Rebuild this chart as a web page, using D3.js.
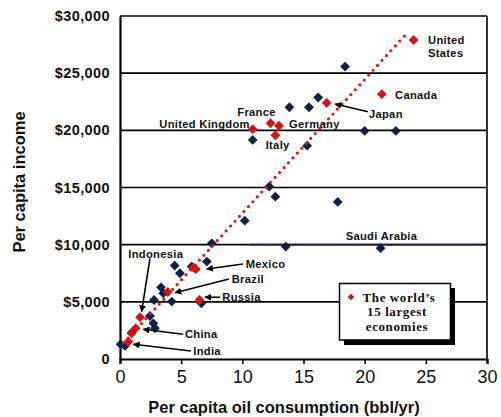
<!DOCTYPE html>
<html><head><meta charset="utf-8">
<script src="https://cdn.jsdelivr.net/npm/d3@7"></script>
<style>
html,body{margin:0;padding:0;background:#fff;}
svg{display:block;font-family:Arial,"Liberation Sans",Helvetica,sans-serif;}
</style></head>
<body>
<svg id="c" width="501" height="417"></svg>
<script>
// ---- data ----
const bigNames  = ["United States","Canada","Japan","France","Germany","United Kingdom","Italy","Russia","Brazil","Mexico","Indonesia","China","India","",""];
const bigOil    = [24.0, 21.4, 16.9, 12.3, 13.0, 10.85, 12.7, 6.5, 3.9, 6.2, 1.64, 1.28, 0.68, 6.0, 0.95];
const bigIncome = [27900,23160,22400,20620,20400,20100,19570,5160,5860,7850,3650,2690,1510,8000,2240];

const otherOil    = [18.4,16.2,15.45,13.85,20.0,22.55,10.85,15.3,12.2,12.7,17.8,13.55,21.3,10.2,7.5,7.1,5.86,4.47,4.9,3.35,3.54,2.78,4.23,6.65,2.45,2.72,2.86,0.95,0.05,0.41];
const otherIncome = [25580,22870,22020,22020,19950,19950,19160,18660,15080,14200,13740,9830,9690,12100,10120,8520,8080,8170,7500,6270,5750,5160,5020,4870,3760,3120,2690,2300,1290,1140];

const trendOil    = [0.3, 23.3];
const trendIncome = [1400, 28310];

const xTicks = [0,5,10,15,20,25,30];
const yTicks = [0,5000,10000,15000,20000,25000,30000];
const yTickLabels = ["0","$5,000","$10,000","$15,000","$20,000","$25,000","$30,000"];

// annotations (text anchor in data units; arrows from -> to in data units)
const labelText = ["United","States","Canada","Japan","France","United Kingdom","Germany","Italy","Saudi Arabia","Indonesia","Mexico","Brazil","Russia","China","India"];
const labelX    = [25.18,25.18,22.48,20.35,9.59,3.21,13.82,11.91,18.45,0.68,10.27,9.13,8.36,5.31,5.99];
const labelY    = [27900,26760,23090,21400,21630,20530,20550,18720,10760,9180,8280,6970,5400,2160,700];

const arrowFromX = [20.27, 2.45, 10.05, 8.91, 8.17, 5.15, 5.8];
const arrowFromY = [21630, 8810, 8310, 7000, 5400, 2160, 700];
const arrowToX   = [17.58, 1.77, 7.09, 4.5, 6.95, 1.9, 1.09];
const arrowToY   = [22300, 4140, 7870, 5800, 5400, 2600, 1290];

// ---- chart ----
const svg = d3.select("#c");
const x = d3.scaleLinear().domain([0,30]).range([120,487]);
const y = d3.scaleLinear().domain([0,30000]).range([359,16]);

svg.append("defs").append("marker")
  .attr("id","ah").attr("viewBox","0 0 10 10").attr("refX",9).attr("refY",5)
  .attr("markerWidth",7).attr("markerHeight",7).attr("markerUnits","userSpaceOnUse")
  .attr("orient","auto")
  .append("path").attr("d","M0,0 L10,5 L0,10 z").attr("fill","#000");

// gridlines
svg.append("g").selectAll("line").data(yTicks.slice(1)).join("line")
  .attr("x1",x(0)).attr("x2",x(30)).attr("y1",d=>y(d)).attr("y2",d=>y(d))
  .attr("stroke","#000").attr("stroke-width",1.6);
// purplish segment on 10,000 line
svg.append("line").attr("x1",x(10.7)).attr("x2",x(30)).attr("y1",y(10000)).attr("y2",y(10000))
  .attr("stroke","#331845").attr("stroke-width",1.6);

// right frame
svg.append("line").attr("x1",x(30)).attr("x2",x(30)).attr("y1",y(30000)).attr("y2",y(0))
  .attr("stroke","#000").attr("stroke-width",1.6);

// axes
const xAxis = d3.axisBottom(x).tickValues(xTicks).tickSize(5).tickPadding(6).tickFormat(d3.format("d"));
const gx = svg.append("g").attr("transform",`translate(0,${y(0)})`).call(xAxis);
gx.select(".domain").attr("stroke","#000").attr("stroke-width",2.2);
gx.selectAll(".tick line").attr("stroke","#000").attr("stroke-width",1.6);
gx.selectAll(".tick text").attr("font-size",18).attr("font-family","Arial,'Liberation Sans',sans-serif").attr("fill","#111");

const yAxis = d3.axisLeft(y).tickValues(yTicks).tickSize(0).tickPadding(10).tickFormat((d,i)=>yTickLabels[i]);
const gy = svg.append("g").attr("transform",`translate(${x(0)},0)`).call(yAxis);
gy.select(".domain").attr("stroke","#000").attr("stroke-width",2.2);
gy.selectAll(".tick text").attr("font-size",14.5).attr("font-weight","bold")
  .attr("font-family","Arial,'Liberation Sans',sans-serif").attr("fill","#111").attr("letter-spacing",0.4);

// axis titles
svg.append("text").attr("x",284).attr("y",413).attr("text-anchor","middle")
  .attr("font-size",16.5).attr("font-weight","bold").attr("fill","#111")
  .text("Per capita oil consumption (bbl/yr)");
svg.append("text").attr("transform","translate(25,182) rotate(-90)").attr("text-anchor","middle")
  .attr("font-size",16.5).attr("font-weight","bold").attr("fill","#111")
  .text("Per capita income");

const diamond = d3.symbol().type(d3.symbolSquare).size(48);

// other countries
svg.append("g").selectAll("path").data(otherOil.map((o,i)=>[o,otherIncome[i]])).join("path")
  .attr("d",diamond)
  .attr("transform",d=>`translate(${x(d[0])},${y(d[1])}) rotate(45)`)
  .attr("fill","#0d1f4d");

// trend line (dotted)
svg.append("path")
  .datum(trendOil.map((o,i)=>[o,trendIncome[i]]))
  .attr("d",d3.line().x(d=>x(d[0])).y(d=>y(d[1])))
  .attr("fill","none").attr("stroke","#e01818").attr("stroke-width",3.2)
  .attr("stroke-linecap","round").attr("stroke-dasharray","0 6.6");

// largest economies
svg.append("g").selectAll("path").data(bigOil.map((o,i)=>[o,bigIncome[i]])).join("path")
  .attr("d",diamond)
  .attr("transform",d=>`translate(${x(d[0])},${y(d[1])}) rotate(45)`)
  .attr("fill","#d41414");

// arrows
svg.append("g").selectAll("line").data(arrowFromX.map((v,i)=>i)).join("line")
  .attr("x1",i=>x(arrowFromX[i])).attr("y1",i=>y(arrowFromY[i]))
  .attr("x2",i=>x(arrowToX[i])).attr("y2",i=>y(arrowToY[i]))
  .attr("stroke","#000").attr("stroke-width",1.6).attr("marker-end","url(#ah)");

// labels
svg.append("g").selectAll("text").data(labelText).join("text")
  .attr("x",(d,i)=>x(labelX[i])).attr("y",(d,i)=>y(labelY[i])).attr("dy","0.36em")
  .attr("font-size",11.2).attr("font-weight","bold").attr("fill","#111").attr("letter-spacing",0.3)
  .text(d=>d);

// legend
const lg = svg.append("g");
lg.append("rect").attr("x",344).attr("y",288).attr("width",111).attr("height",57).attr("fill","#000");
lg.append("rect").attr("x",339.5).attr("y",283.5).attr("width",111).attr("height",56.5)
  .attr("fill","#fff").attr("stroke","#000").attr("stroke-width",1.5);
lg.append("path").attr("d",d3.symbol().type(d3.symbolSquare).size(22))
  .attr("transform","translate(351,297) rotate(45)").attr("fill","#d41414");
const lt = lg.append("text").attr("text-anchor","middle").attr("font-family","'Times New Roman','Liberation Serif',serif")
  .attr("font-size",13).attr("font-weight","bold").attr("fill","#111").attr("letter-spacing",0.6);
["The world\u2019s","15 largest","economies"].forEach((s,i)=>{
  lt.append("tspan").attr("x",i===0?399:397).attr("y",301.5+i*14.5).text(s);
});
</script>
</body></html>
